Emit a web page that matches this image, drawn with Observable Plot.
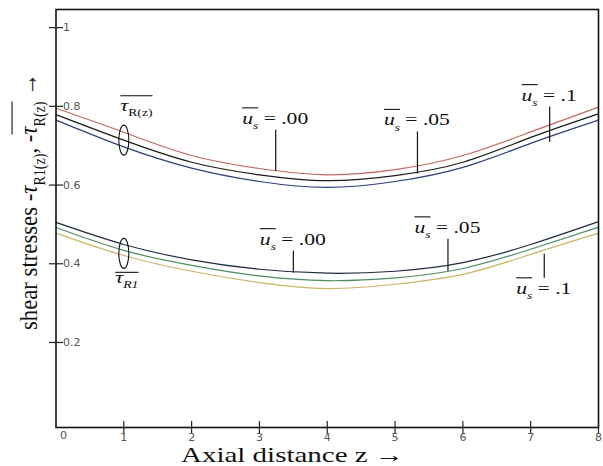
<!DOCTYPE html>
<html>
<head>
<meta charset="utf-8">
<script src="https://cdn.jsdelivr.net/npm/d3@7"></script>
<script src="https://cdn.jsdelivr.net/npm/@observablehq/plot@0.6"></script>
<style>
  body { margin: 0; background: #fff; }
</style>
</head>
<body>
<div id="chart"></div>
<script>
// Axial positions at which the stresses are tabulated
const z = [0, 1, 2, 3, 4, 5, 6, 7, 8];

// Shear stress -τR(z) for slip velocity u_s = .00, .05, .1
const tauR_us00 = [0.795, 0.734, 0.675, 0.642, 0.626, 0.639, 0.675, 0.735, 0.798];
const tauR_us05 = [0.779, 0.714, 0.658, 0.626, 0.611, 0.624, 0.658, 0.721, 0.781];
const tauR_us10 = [0.765, 0.697, 0.643, 0.609, 0.594, 0.609, 0.645, 0.706, 0.765];

// Shear stress -τR1(z) for slip velocity u_s = .00, .05, .1
const tauR1_us00 = [0.505, 0.449, 0.410, 0.386, 0.376, 0.381, 0.403, 0.449, 0.507];
const tauR1_us05 = [0.492, 0.434, 0.396, 0.369, 0.357, 0.364, 0.388, 0.437, 0.493];
const tauR1_us10 = [0.478, 0.421, 0.381, 0.352, 0.337, 0.348, 0.373, 0.424, 0.478];

// Axis ticks
const yTicks = [1, 0.8, 0.6, 0.4, 0.2];
const yTickLabels = ["1", "0.8", "0.6", "0.4", "0.2"];
const xTicks = [0, 1, 2, 3, 4, 5, 6, 7, 8];
const xTickLabels = ["0", "1", "2", "3", "4", "5", "6", "7", "8"];

// Leader lines naming each u_s curve: axial position, top and bottom stress
const leaderZ = [3.24, 5.33, 7.28, 3.5, 5.78, 7.2];
const leaderTop = [0.739, 0.735, 0.798, 0.432, 0.462, 0.424];
const leaderBottom = [0.635, 0.628, 0.709, 0.376, 0.381, 0.363];
const leaderText = [".00", ".05", ".1", ".00", ".05", ".1"];
const leaderBelow = [false, false, false, false, false, true];

const yDomain = [-0.016, 1.046];

const rows = (vals) => z.map((d, i) => ({z: d, v: vals[i]}));
const curveLine = (vals, color) =>
  Plot.line(rows(vals), {x: "z", y: "v", stroke: color, strokeWidth: 1.2, curve: "natural"});

// Symbols: short dashes for ticks crossing the axes, a tall ellipse grouping curves
const hDash = {draw(ctx) { ctx.moveTo(-7, 0); ctx.lineTo(7, 0); }};
const vDash = {draw(ctx) { ctx.moveTo(0, -6.5); ctx.lineTo(0, 6.5); }};
const ellipse = {draw(ctx) {
  const rx = 5, ry = 15, k = 0.5523;
  ctx.moveTo(rx, 0);
  ctx.bezierCurveTo(rx, ry * k, rx * k, ry, 0, ry);
  ctx.bezierCurveTo(-rx * k, ry, -rx, ry * k, -rx, 0);
  ctx.bezierCurveTo(-rx, -ry * k, -rx * k, -ry, 0, -ry);
  ctx.bezierCurveTo(rx * k, -ry, rx, -ry * k, rx, 0);
  ctx.closePath();
}};

const leaders = leaderZ.map((d, i) => ({z: d, top: leaderTop[i], bottom: leaderBottom[i]}));

const chart = Plot.plot({
  width: 603,
  height: 466,
  marginLeft: 55.5,
  marginRight: 5,
  marginTop: 9,
  marginBottom: 39,
  x: {domain: [0, 8], axis: null},
  y: {domain: yDomain, axis: null},
  style: {background: "#fff", overflow: "visible"},
  marks: [
    curveLine(tauR_us00, "#c4675f"),
    curveLine(tauR_us05, "#1c1c1c"),
    curveLine(tauR_us10, "#2e3f7c"),
    curveLine(tauR1_us00, "#1f2a42"),
    curveLine(tauR1_us05, "#4d8c62"),
    curveLine(tauR1_us10, "#c9b765"),
    Plot.ruleX(leaders, {x: "z", y1: "top", y2: "bottom", stroke: "#111", strokeWidth: 1.2}),
    Plot.dot([{z: 1, v: tauR_us05[1]}], {x: "z", y: "v", symbol: ellipse, fill: "none", stroke: "#111", strokeWidth: 1.1}),
    Plot.dot([{z: 1, v: tauR1_us05[1]}], {x: "z", y: "v", dy: 3, symbol: ellipse, fill: "none", stroke: "#111", strokeWidth: 1.1}),
    Plot.frame({stroke: "#111", strokeWidth: 1.6}),
    Plot.dot(yTicks, {x: () => 0, y: (d) => d, symbol: hDash, stroke: "#222", strokeWidth: 1.2}),
    Plot.dot(xTicks.slice(1), {x: (d) => d, y: () => yDomain[0], symbol: vDash, stroke: "#222", strokeWidth: 1.2}),
    Plot.text(yTicks, {x: () => 0, y: (d) => d, text: (d, i) => yTickLabels[i], textAnchor: "start", dx: 7,
      fontFamily: "DejaVu Sans", fontSize: 11, fill: "#555"}),
    Plot.text(xTicks.slice(1), {x: (d) => d, y: () => yDomain[0], text: (d, i) => xTickLabels[i + 1], dy: 10,
      fontFamily: "DejaVu Sans", fontSize: 11, fill: "#555"}),
    Plot.text(xTicks.slice(0, 1), {x: (d) => d, y: () => yDomain[0], text: (d, i) => xTickLabels[i], dy: 8, dx: 4,
      textAnchor: "start", fontFamily: "DejaVu Sans", fontSize: 11, fill: "#555"})
  ]
});

document.getElementById("chart").append(chart);

const xs = chart.scale("x"), ys = chart.scale("y");
const svg = d3.select(chart);

// Serif text with italic, subscript and overlined runs, stretched horizontally
function richText(x, y, parts, {size, anchor = "middle", stretch = 1, fit = null, rotate = 0, barAt = 0.95}) {
  const g = svg.append("g");
  const t = g.append("text").attr("font-family", "Liberation Serif, Times New Roman, serif")
    .attr("font-size", size).attr("fill", "#111").attr("text-anchor", "start");
  let shift = 0, idx = 0;
  const bars = [];
  for (const p of parts) {
    const ts = t.append("tspan").text(p.t);
    const want = p.sub ? size * 0.32 : 0;
    if (want !== shift) { ts.attr("dy", want - shift); shift = want; }
    if (p.sub) ts.attr("font-size", size * 0.62);
    if (p.i) ts.attr("font-style", "italic");
    if (p.bar) {
      const last = bars[bars.length - 1];
      if (last && last[1] === idx) last[1] = idx + p.t.length;
      else bars.push([idx, idx + p.t.length]);
    }
    idx += p.t.length;
  }
  const node = t.node();
  const len = node.getComputedTextLength();
  const k = fit ? fit / len : stretch;
  for (const [a, b] of bars) {
    const x0 = node.getStartPositionOfChar(a).x;
    const x1 = node.getEndPositionOfChar(b - 1).x;
    g.append("line").attr("x1", x0).attr("x2", x1)
      .attr("y1", -size * barAt).attr("y2", -size * barAt)
      .attr("stroke", "#111").attr("stroke-width", 1.1);
  }
  const off = anchor === "middle" ? -len / 2 : anchor === "end" ? -len : 0;
  g.attr("transform", `translate(${x},${y}) rotate(${rotate}) scale(${k},1) translate(${off},0)`);
  return g;
}

// Labels on the leader lines
leaders.forEach((d, i) => {
  const px = xs.apply(d.z);
  const parts = [{t: "u", i: true, bar: true}, {t: "s", i: true, sub: true, bar: true}, {t: " = " + leaderText[i]}];
  if (leaderBelow[i]) richText(px, ys.apply(d.bottom) + 16, parts, {size: 16, stretch: 1.35, barAt: 1.0});
  else richText(px, ys.apply(d.top) - 6, parts, {size: 16, stretch: 1.35, barAt: 1.0});
});

// Group labels beside the ellipses
richText(xs.apply(1) - 3, ys.apply(tauR_us05[1]) - 29, [
  {t: "τ", i: true, bar: true}, {t: "R(z)", sub: true, bar: true}
], {size: 17, anchor: "start", stretch: 1.3, barAt: 0.88});
richText(xs.apply(1) - 8, ys.apply(tauR1_us05[1]) + 33, [
  {t: "τ", i: true, bar: true}, {t: "R1", i: true, sub: true, bar: true}
], {size: 17, anchor: "start", stretch: 1.3, barAt: 0.62});

// Axis titles
richText(36.5, 330, [
  {t: "shear stresses -"}, {t: "τ", i: true}, {t: "R1(z)", sub: true}, {t: ", -"},
  {t: "τ", i: true, bar: true}, {t: "R(z)", sub: true, bar: true}, {t: " →"}
], {size: 26, anchor: "start", fit: 257, rotate: -90, barAt: 0.94});

richText(292.5, 462, [{t: "Axial distance z →"}], {size: 21, fit: 223});
</script>
</body>
</html>
